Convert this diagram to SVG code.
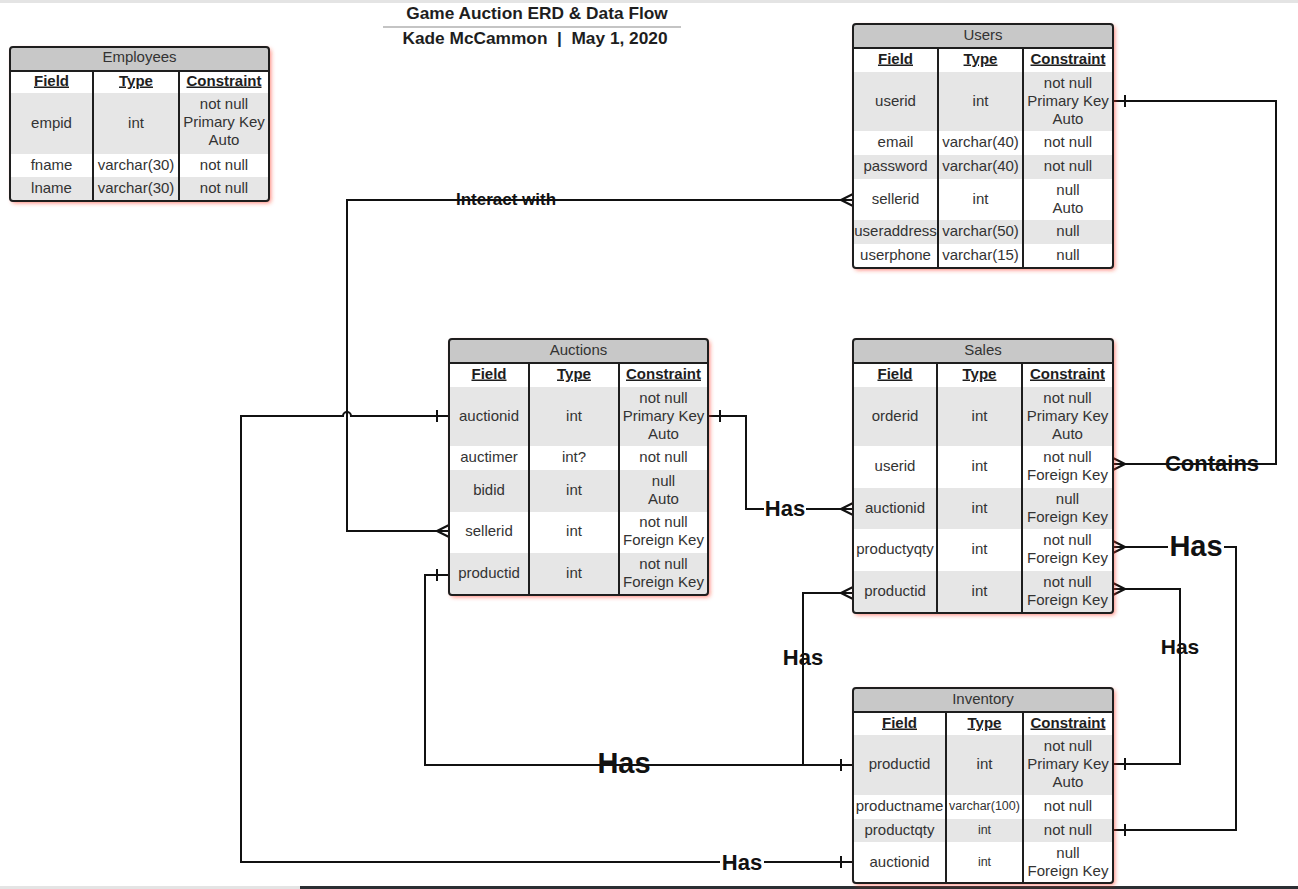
<svg xmlns="http://www.w3.org/2000/svg" width="1298" height="889" viewBox="0 0 1298 889">
  <defs>
    <filter id="glow" x="-10%" y="-10%" width="125%" height="125%">
      <feDropShadow dx="2" dy="2" stdDeviation="2.2" flood-color="#ff3020" flood-opacity="0.6"/>
    </filter>
    <style>
      .base { fill: #ffffff; filter: url(#glow); }
      .bar { fill: #c8c8c8; }
      .shade { fill: #e6e6e6; }
      .frame { fill: none; stroke: #1e1e1e; stroke-width: 2; }
      .div { stroke: #1e1e1e; stroke-width: 2; }
      .c { font-family: "Liberation Sans", Arial, sans-serif; font-size: 15px; fill: #333333; text-anchor: middle; }
      .sm { font-size: 12.5px; }
      .hd { font-family: "Liberation Sans", Arial, sans-serif; font-size: 15px; font-weight: bold; fill: #1e1e1e; text-anchor: middle; text-decoration: underline; }
      .conn { fill: none; stroke: #111111; stroke-width: 2; }
      .lbl { font-family: "Liberation Sans", Arial, sans-serif; font-weight: bold; fill: #111111; text-anchor: middle; }
      .title { font-family: "Liberation Sans", Arial, sans-serif; font-size: 17.3px; font-weight: bold; fill: #1e1e1e; text-anchor: middle; white-space: pre; }
    </style>
  </defs>

  <rect width="1298" height="889" fill="#ffffff"/>
  <rect x="0" y="0" width="1298" height="3" fill="#e4e4e4"/>
  <rect x="0" y="886" width="300" height="3" fill="#e4e4e4"/>
  <rect x="300" y="886" width="998" height="3" fill="#2b2f33"/>

  <!-- heading -->
  <g id="heading">
    <text class="title" x="537" y="19">Game Auction ERD &amp; Data Flow</text>
    <line x1="383" y1="27" x2="681" y2="27" stroke="#b0b0b0" stroke-width="1.5"/>
    <text class="title" x="535" y="44">Kade McCammon  |  May 1, 2020</text>
  </g>

  <!-- connectors -->
  <g id="connectors">
    <!-- Users.sellerid >- Auctions.sellerid -->
    <path class="conn" d="M853,200 H347 V531 H449"/>
    <path class="conn" d="M841,200 L853,194 M841,200 L853,206"/>
    <path class="conn" d="M437,531 L449,525 M437,531 L449,537"/>
    <text class="lbl" x="506" y="205" font-size="17">Interact with</text>

    <!-- Auctions.auctionid -| Inventory.auctionid -->
    <path class="conn" d="M449,416 H351 A4,4 0 0 0 343,416 H241 V862 H720 M764,862 H853"/>
    <path class="conn" d="M437,410 V422 M841,856 V868"/>
    <text class="lbl" x="742" y="870" font-size="22">Has</text>

    <!-- Auctions.auctionid -| Sales.auctionid -->
    <path class="conn" d="M708,416 H746 V509 H764 M806,509 H853"/>
    <path class="conn" d="M720,410 V422"/>
    <path class="conn" d="M841,509 L853,503 M841,509 L853,515"/>
    <text class="lbl" x="785" y="516" font-size="22">Has</text>

    <!-- Users.userid -| Sales.userid -->
    <path class="conn" d="M1113,101 H1276 V464 H1113"/>
    <path class="conn" d="M1125,95 V107"/>
    <path class="conn" d="M1125,464 L1113,458 M1125,464 L1113,470"/>
    <text class="lbl" x="1212" y="471" font-size="22">Contains</text>

    <!-- Sales.productyqty >- Inventory.productqty -->
    <path class="conn" d="M1113,547 H1168 M1224,547 H1236 V830 H1113"/>
    <path class="conn" d="M1125,547 L1113,541 M1125,547 L1113,553"/>
    <path class="conn" d="M1125,824 V836"/>
    <text class="lbl" x="1196" y="556" font-size="29">Has</text>

    <!-- Sales.productid >- Inventory.productid (right side) -->
    <path class="conn" d="M1113,589 H1180 V764 H1113"/>
    <path class="conn" d="M1125,589 L1113,583 M1125,589 L1113,595"/>
    <path class="conn" d="M1125,758 V770"/>
    <text class="lbl" x="1180" y="654" font-size="21">Has</text>

    <!-- Sales.productid >- Inventory.productid (left side) -->
    <path class="conn" d="M853,593 H803 V765 H853"/>
    <path class="conn" d="M841,593 L853,587 M841,593 L853,599"/>
    <path class="conn" d="M841,759 V771"/>
    <text class="lbl" x="803" y="665" font-size="22">Has</text>

    <!-- Auctions.productid -| Inventory.productid -->
    <path class="conn" d="M449,575 H425 V765 H803"/>
    <path class="conn" d="M437,569 V581"/>
    <text class="lbl" x="624" y="773" font-size="29">Has</text>
  </g>

  <!-- Employees -->
  <g id="employees">
    <rect class="base" x="10" y="47" width="259" height="154" rx="3"/>
    <rect class="bar" x="10" y="47" width="259" height="24"/>
    <rect class="shade" x="10" y="93" width="259" height="61"/>
    <rect class="shade" x="10" y="177" width="259" height="24"/>
    <line class="div" x1="10" y1="71" x2="269" y2="71"/>
    <line class="div" x1="93" y1="71" x2="93" y2="201"/>
    <line class="div" x1="179" y1="71" x2="179" y2="201"/>
    <rect class="frame" x="10" y="47" width="259" height="154" rx="3"/>
    <g transform="translate(0,-1.5)">
      <text class="c" x="139.5" y="63">Employees</text>
      <text class="hd" x="51.5" y="87">Field</text>
      <text class="hd" x="136" y="87">Type</text>
      <text class="hd" x="224" y="87">Constraint</text>
      <text class="c" x="51.5" y="129">empid</text>
      <text class="c" x="136" y="129">int</text>
      <text class="c" x="224" y="110">not null</text>
      <text class="c" x="224" y="128">Primary Key</text>
      <text class="c" x="224" y="146">Auto</text>
      <text class="c" x="51.5" y="171">fname</text>
      <text class="c" x="136" y="171">varchar(30)</text>
      <text class="c" x="224" y="171">not null</text>
      <text class="c" x="51.5" y="194">lname</text>
      <text class="c" x="136" y="194">varchar(30)</text>
      <text class="c" x="224" y="194">not null</text>
    </g>
  </g>

  <!-- Users -->
  <g id="users">
    <rect class="base" x="853" y="24" width="260" height="244" rx="3"/>
    <rect class="bar" x="853" y="24" width="260" height="24"/>
    <rect class="shade" x="853" y="72" width="260" height="59"/>
    <rect class="shade" x="853" y="155" width="260" height="24"/>
    <rect class="shade" x="853" y="220" width="260" height="24"/>
    <line class="div" x1="853" y1="48" x2="1113" y2="48"/>
    <line class="div" x1="938" y1="48" x2="938" y2="268"/>
    <line class="div" x1="1023" y1="48" x2="1023" y2="268"/>
    <rect class="frame" x="853" y="24" width="260" height="244" rx="3"/>
    <g transform="translate(0,-1.5)">
      <text class="c" x="983" y="41">Users</text>
      <text class="hd" x="895.5" y="65">Field</text>
      <text class="hd" x="980.5" y="65">Type</text>
      <text class="hd" x="1068" y="65">Constraint</text>
      <text class="c" x="895.5" y="107">userid</text>
      <text class="c" x="980.5" y="107">int</text>
      <text class="c" x="1068" y="89">not null</text>
      <text class="c" x="1068" y="107">Primary Key</text>
      <text class="c" x="1068" y="125">Auto</text>
      <text class="c" x="895.5" y="148">email</text>
      <text class="c" x="980.5" y="148">varchar(40)</text>
      <text class="c" x="1068" y="148">not null</text>
      <text class="c" x="895.5" y="172">password</text>
      <text class="c" x="980.5" y="172">varchar(40)</text>
      <text class="c" x="1068" y="172">not null</text>
      <text class="c" x="895.5" y="205">sellerid</text>
      <text class="c" x="980.5" y="205">int</text>
      <text class="c" x="1068" y="196">null</text>
      <text class="c" x="1068" y="214">Auto</text>
      <text class="c" x="895.5" y="237">useraddress</text>
      <text class="c" x="980.5" y="237">varchar(50)</text>
      <text class="c" x="1068" y="237">null</text>
      <text class="c" x="895.5" y="261">userphone</text>
      <text class="c" x="980.5" y="261">varchar(15)</text>
      <text class="c" x="1068" y="261">null</text>
    </g>
  </g>

  <!-- Auctions -->
  <g id="auctions">
    <rect class="base" x="449" y="339" width="259" height="256" rx="3"/>
    <rect class="bar" x="449" y="339" width="259" height="24"/>
    <rect class="shade" x="449" y="387" width="259" height="59"/>
    <rect class="shade" x="449" y="470" width="259" height="42"/>
    <rect class="shade" x="449" y="553" width="259" height="42"/>
    <line class="div" x1="449" y1="363" x2="708" y2="363"/>
    <line class="div" x1="529" y1="363" x2="529" y2="595"/>
    <line class="div" x1="619" y1="363" x2="619" y2="595"/>
    <rect class="frame" x="449" y="339" width="259" height="256" rx="3"/>
    <g transform="translate(0,-1.5)">
      <text class="c" x="578.5" y="356">Auctions</text>
      <text class="hd" x="489" y="380">Field</text>
      <text class="hd" x="574" y="380">Type</text>
      <text class="hd" x="663.5" y="380">Constraint</text>
      <text class="c" x="489" y="422">auctionid</text>
      <text class="c" x="574" y="422">int</text>
      <text class="c" x="663.5" y="404">not null</text>
      <text class="c" x="663.5" y="422">Primary Key</text>
      <text class="c" x="663.5" y="440">Auto</text>
      <text class="c" x="489" y="463">auctimer</text>
      <text class="c" x="574" y="463">int?</text>
      <text class="c" x="663.5" y="463">not null</text>
      <text class="c" x="489" y="496">bidid</text>
      <text class="c" x="574" y="496">int</text>
      <text class="c" x="663.5" y="487">null</text>
      <text class="c" x="663.5" y="505">Auto</text>
      <text class="c" x="489" y="537">sellerid</text>
      <text class="c" x="574" y="537">int</text>
      <text class="c" x="663.5" y="528">not null</text>
      <text class="c" x="663.5" y="546">Foreign Key</text>
      <text class="c" x="489" y="579">productid</text>
      <text class="c" x="574" y="579">int</text>
      <text class="c" x="663.5" y="570">not null</text>
      <text class="c" x="663.5" y="588">Foreign Key</text>
    </g>
  </g>

  <!-- Sales -->
  <g id="sales">
    <rect class="base" x="853" y="339" width="260" height="274" rx="3"/>
    <rect class="bar" x="853" y="339" width="260" height="24"/>
    <rect class="shade" x="853" y="387" width="260" height="59"/>
    <rect class="shade" x="853" y="488" width="260" height="41"/>
    <rect class="shade" x="853" y="571" width="260" height="42"/>
    <line class="div" x1="853" y1="363" x2="1113" y2="363"/>
    <line class="div" x1="937" y1="363" x2="937" y2="613"/>
    <line class="div" x1="1022" y1="363" x2="1022" y2="613"/>
    <rect class="frame" x="853" y="339" width="260" height="274" rx="3"/>
    <g transform="translate(0,-1.5)">
      <text class="c" x="983" y="356">Sales</text>
      <text class="hd" x="895" y="380">Field</text>
      <text class="hd" x="979.5" y="380">Type</text>
      <text class="hd" x="1067.5" y="380">Constraint</text>
      <text class="c" x="895" y="422">orderid</text>
      <text class="c" x="979.5" y="422">int</text>
      <text class="c" x="1067.5" y="404">not null</text>
      <text class="c" x="1067.5" y="422">Primary Key</text>
      <text class="c" x="1067.5" y="440">Auto</text>
      <text class="c" x="895" y="472">userid</text>
      <text class="c" x="979.5" y="472">int</text>
      <text class="c" x="1067.5" y="463">not null</text>
      <text class="c" x="1067.5" y="481">Foreign Key</text>
      <text class="c" x="895" y="514">auctionid</text>
      <text class="c" x="979.5" y="514">int</text>
      <text class="c" x="1067.5" y="505">null</text>
      <text class="c" x="1067.5" y="523">Foreign Key</text>
      <text class="c" x="895" y="555">productyqty</text>
      <text class="c" x="979.5" y="555">int</text>
      <text class="c" x="1067.5" y="546">not null</text>
      <text class="c" x="1067.5" y="564">Foreign Key</text>
      <text class="c" x="895" y="597">productid</text>
      <text class="c" x="979.5" y="597">int</text>
      <text class="c" x="1067.5" y="588">not null</text>
      <text class="c" x="1067.5" y="606">Foreign Key</text>
    </g>
  </g>

  <!-- Inventory -->
  <g id="inventory">
    <rect class="base" x="853" y="688" width="260" height="195" rx="3"/>
    <rect class="bar" x="853" y="688" width="260" height="24"/>
    <rect class="shade" x="853" y="735" width="260" height="60"/>
    <rect class="shade" x="853" y="819" width="260" height="23"/>
    <line class="div" x1="853" y1="712" x2="1113" y2="712"/>
    <line class="div" x1="946" y1="712" x2="946" y2="883"/>
    <line class="div" x1="1023" y1="712" x2="1023" y2="883"/>
    <rect class="frame" x="853" y="688" width="260" height="195" rx="3"/>
    <g transform="translate(0,-1.5)">
      <text class="c" x="983" y="705">Inventory</text>
      <text class="hd" x="899.5" y="729">Field</text>
      <text class="hd" x="984.5" y="729">Type</text>
      <text class="hd" x="1068" y="729">Constraint</text>
      <text class="c" x="899.5" y="770">productid</text>
      <text class="c" x="984.5" y="770">int</text>
      <text class="c" x="1068" y="752">not null</text>
      <text class="c" x="1068" y="770">Primary Key</text>
      <text class="c" x="1068" y="788">Auto</text>
      <text class="c" x="899.5" y="812">productname</text>
      <text class="c sm" x="984.5" y="811">varchar(100)</text>
      <text class="c" x="1068" y="812">not null</text>
      <text class="c" x="899.5" y="836">productqty</text>
      <text class="c sm" x="984.5" y="835">int</text>
      <text class="c" x="1068" y="836">not null</text>
      <text class="c" x="899.5" y="868">auctionid</text>
      <text class="c sm" x="984.5" y="867">int</text>
      <text class="c" x="1068" y="859">null</text>
      <text class="c" x="1068" y="877">Foreign Key</text>
    </g>
  </g>
</svg>
